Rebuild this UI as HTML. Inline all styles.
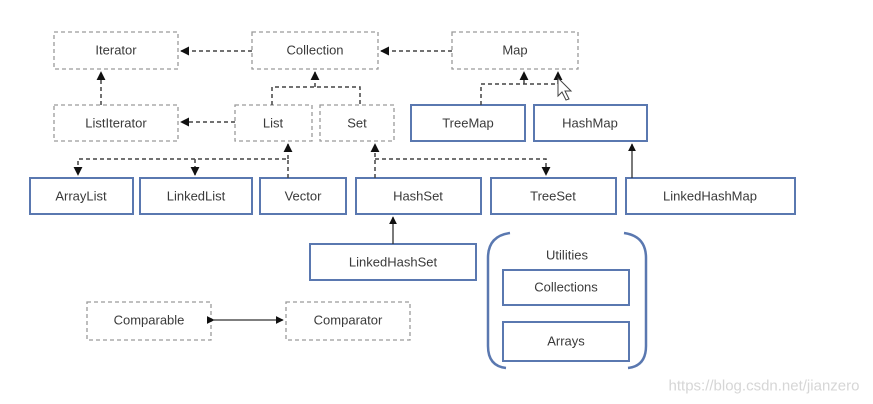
<!DOCTYPE html>
<html><head><meta charset="utf-8"><style>
html,body{margin:0;padding:0;background:#fff;}
svg{display:block;}
text{font-family:"Liberation Sans",sans-serif;font-size:13px;fill:#3a3a3a;text-anchor:middle;dominant-baseline:central;}
.d{fill:#fff;stroke:#9a9a9a;stroke-width:1.3;stroke-dasharray:4 3;}
.b{fill:#fff;stroke:#5a78b0;stroke-width:2;}
.c{fill:none;stroke:#444;stroke-width:1.5;stroke-dasharray:4 3;}
.s{fill:none;stroke:#333;stroke-width:1.3;}
</style></head><body>
<svg width="873" height="404" viewBox="0 0 873 404" xmlns="http://www.w3.org/2000/svg">
<defs>
<marker id="a" viewBox="0 0 10 10" refX="9" refY="5" markerWidth="6" markerHeight="6" orient="auto"><path d="M0,0L10,5L0,10z" fill="#111"/></marker>
</defs>
<!-- dashed boxes -->
<rect class="d" x="54" y="32" width="124" height="37"/><text x="116" y="50">Iterator</text>
<rect class="d" x="252" y="32" width="126" height="37"/><text x="315" y="50">Collection</text>
<rect class="d" x="452" y="32" width="126" height="37"/><text x="515" y="50">Map</text>
<rect class="d" x="54" y="105" width="124" height="36"/><text x="116" y="123">ListIterator</text>
<rect class="d" x="235" y="105" width="77" height="36"/><text x="273" y="123">List</text>
<rect class="d" x="320" y="105" width="74" height="36"/><text x="357" y="123">Set</text>
<rect class="d" x="87" y="302" width="124" height="38"/><text x="149" y="320">Comparable</text>
<rect class="d" x="286" y="302" width="124" height="38"/><text x="348" y="320">Comparator</text>
<!-- blue boxes -->
<rect class="b" x="411" y="105" width="114" height="36"/><text x="468" y="123">TreeMap</text>
<rect class="b" x="534" y="105" width="113" height="36"/><text x="590" y="123">HashMap</text>
<rect class="b" x="30" y="178" width="103" height="36"/><text x="81" y="196">ArrayList</text>
<rect class="b" x="140" y="178" width="112" height="36"/><text x="196" y="196">LinkedList</text>
<rect class="b" x="260" y="178" width="86" height="36"/><text x="303" y="196">Vector</text>
<rect class="b" x="356" y="178" width="125" height="36"/><text x="418" y="196">HashSet</text>
<rect class="b" x="491" y="178" width="125" height="36"/><text x="553" y="196">TreeSet</text>
<rect class="b" x="626" y="178" width="169" height="36"/><text x="710" y="196">LinkedHashMap</text>
<rect class="b" x="310" y="244" width="166" height="36"/><text x="393" y="262">LinkedHashSet</text>
<!-- utilities -->
<path d="M510,233 Q488,236 488,258 L488,346 Q488,366 506,368" fill="none" stroke="#5a78b0" stroke-width="2.5"/>
<path d="M624,233 Q646,236 646,258 L646,346 Q646,366 628,368" fill="none" stroke="#5a78b0" stroke-width="2.5"/>
<text x="567" y="255">Utilities</text>
<rect class="b" x="503" y="270" width="126" height="35"/><text x="566" y="287">Collections</text>
<rect class="b" x="503" y="322" width="126" height="39"/><text x="566" y="341">Arrays</text>
<!-- connectors -->
<path class="c" d="M252,51 L181,51" marker-end="url(#a)"/>
<path class="c" d="M452,51 L381,51" marker-end="url(#a)"/>
<path class="c" d="M101,105 L101,72" marker-end="url(#a)"/>
<path class="c" d="M235,122 L181,122" marker-end="url(#a)"/>
<path class="c" d="M272,105 L272,87 L360,87 L360,105"/>
<path class="c" d="M315,87 L315,72" marker-end="url(#a)"/>
<path class="c" d="M288,178 L288,159 L78,159 L78,175" marker-end="url(#a)"/>
<path class="c" d="M288,159 L288,144" marker-end="url(#a)"/>
<path class="c" d="M195,159 L195,175" marker-end="url(#a)"/>
<path class="c" d="M375,178 L375,144" marker-end="url(#a)"/>
<path class="c" d="M375,159 L546,159 L546,175" marker-end="url(#a)"/>
<path class="c" d="M481,105 L481,84 L558,84 L558,72" marker-end="url(#a)"/>
<path class="c" d="M524,84 L524,72" marker-end="url(#a)"/>
<path class="s" d="M632,178 L632,144" marker-end="url(#a)"/>
<path class="s" d="M393,244 L393,217" marker-end="url(#a)"/>
<path class="s" d="M214,320 L283,320" marker-end="url(#a)" marker-start="url(#a)"/>
<path d="M558,78 L558,96 L562,92 L566,100 L569,99 L565,91 L571,91 Z" fill="#fff" stroke="#444" stroke-width="1"/>
<text x="764" y="386" style="font-size:15px;fill:#d6d6d6;">https://blog.csdn.net/jianzero</text>
</svg>
</body></html>
